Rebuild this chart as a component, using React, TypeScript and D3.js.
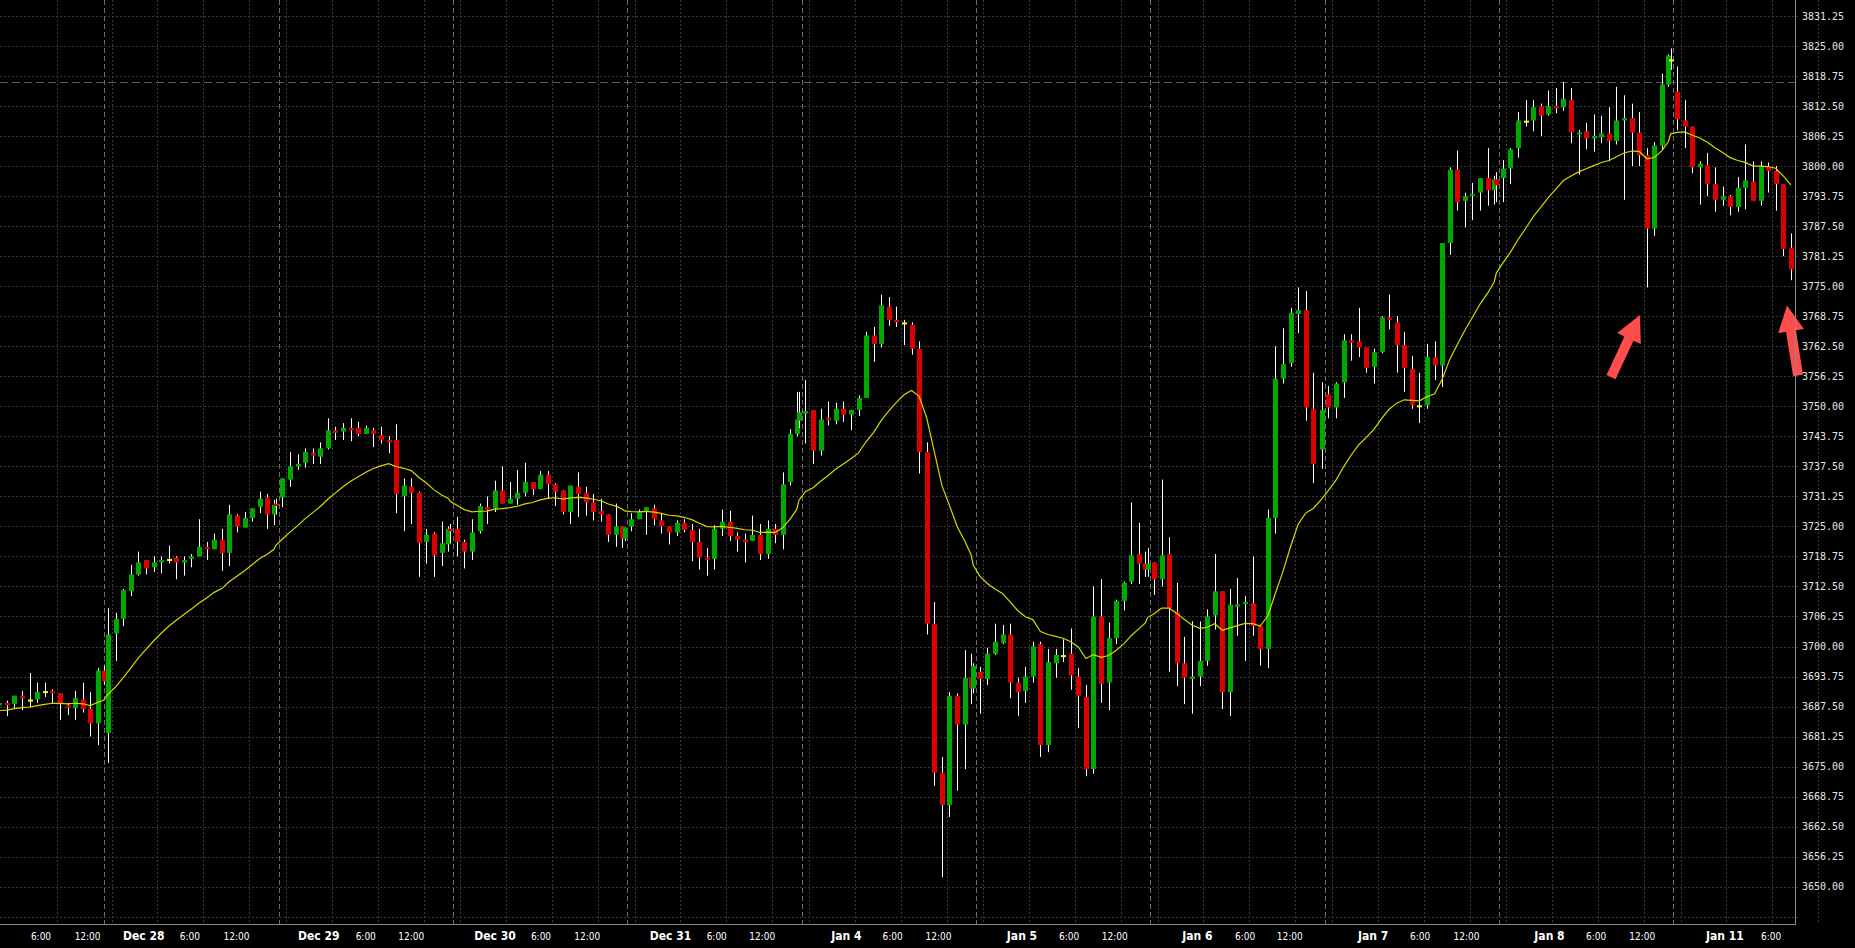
import React from 'react';
import * as d3 from 'd3';

type Bar = [number, number, number, number]; // open, high, low, close

// ---- price data (hourly bars) ----
const dec24: Bar[] = [
  [3687.75, 3688.5, 3687.5, 3688.25], [3688.25, 3688.75, 3685.5, 3687.75], [3688, 3689.75, 3687.25, 3689.75],
  [3689.75, 3690.75, 3686.75, 3689.25], [3688.75, 3694.5, 3687.25, 3688.75], [3689, 3692.5, 3688.25, 3690.5],
  [3690.5, 3692.5, 3689.5, 3690.5], [3690.75, 3691, 3688.25, 3690.25], [3690.25, 3690.25, 3684.75, 3688],
  [3687.75, 3688.25, 3685.75, 3687.25], [3687.25, 3690.75, 3684.75, 3689.25], [3689, 3692.5, 3686.25, 3687],
  [3687, 3690.5, 3681.25, 3684], [3684, 3695.5, 3679.5, 3695], [3695, 3696, 3692, 3692.75],
];
const dec28: Bar[] = [
  [3682, 3708, 3675.75, 3702.5], [3702.75, 3707, 3697, 3705.75], [3705.75, 3712, 3704.25, 3711.75],
  [3711.5, 3717, 3710.5, 3715], [3715, 3719.75, 3714.75, 3717.5], [3718, 3718, 3715, 3716.25],
  [3716.5, 3718.75, 3715.5, 3717.5], [3717.5, 3718.75, 3715.25, 3718], [3718, 3721, 3717.25, 3718],
  [3718.5, 3718.75, 3714, 3717.5], [3717.5, 3718.75, 3714.75, 3718], [3718.25, 3719.25, 3716.5, 3718.75],
  [3718.75, 3726.5, 3718.75, 3720.75], [3720.75, 3721.75, 3718, 3720.25], [3720.25, 3723.5, 3720.25, 3722.25],
  [3722.25, 3724.5, 3715.75, 3719.5], [3719.5, 3729.5, 3716.75, 3727.5], [3727.25, 3727.5, 3723.75, 3725],
  [3724.75, 3728, 3724.75, 3726.75], [3726.75, 3728.75, 3726, 3728.75], [3729, 3732.25, 3727.75, 3730.75],
  [3731, 3731.75, 3724.5, 3727.5], [3727.5, 3730.5, 3725.25, 3729.5], [3729.75, 3730.75, 3727.5, 3729.25],
];
const dec29: Bar[] = [
  [3731, 3735, 3729, 3735], [3734.75, 3740.5, 3733.25, 3737.5], [3737.5, 3740, 3736.75, 3738],
  [3738.25, 3741.25, 3737.25, 3740.5], [3740.25, 3741.25, 3738, 3739.75], [3739.5, 3742.5, 3738, 3741.25],
  [3741.25, 3747.5, 3741, 3745], [3745, 3745.75, 3743, 3744.5], [3744.75, 3746.5, 3743, 3745.5],
  [3745.5, 3747.5, 3742.75, 3745], [3745.5, 3746.75, 3743.75, 3744.25], [3744.25, 3746, 3744.25, 3745.5],
  [3745, 3745.5, 3741.5, 3744.25], [3744, 3745.75, 3742.25, 3743], [3743, 3743.75, 3740.25, 3742.5],
  [3743, 3746.25, 3727.75, 3731.75], [3731.25, 3735, 3724, 3733.5], [3733.25, 3735, 3725.5, 3732],
  [3732, 3732.25, 3714.5, 3721.5], [3721.75, 3724.5, 3717.25, 3723.25], [3723.5, 3723.75, 3714.5, 3719],
  [3719.5, 3726, 3716.75, 3721.5], [3721.25, 3725, 3719.75, 3724.5], [3724.5, 3725.5, 3721.5, 3724],
];
const dec30: Bar[] = [
  [3724.5, 3727, 3718.75, 3721.75], [3721.75, 3722.25, 3716.25, 3719.75], [3719.75, 3726.5, 3718, 3723.75],
  [3724, 3729.75, 3723.5, 3729.25], [3729, 3731.25, 3725.5, 3728.5], [3728.75, 3734.5, 3728, 3732.5],
  [3732.5, 3737.5, 3729.75, 3729.75], [3729.75, 3734.25, 3729.75, 3730.75], [3730.75, 3736.75, 3729.5, 3732],
  [3732, 3738.25, 3731.25, 3734.25], [3734.25, 3734.25, 3731.5, 3732.75], [3732.75, 3736.5, 3732.75, 3735.75],
  [3735.75, 3736.5, 3730.75, 3733.75], [3733.75, 3734, 3729.25, 3732.25], [3732.5, 3732.5, 3727.5, 3728],
  [3728, 3733.5, 3725.5, 3733.5], [3733.25, 3736.25, 3727, 3731.75], [3732, 3733.25, 3727.25, 3730],
  [3730, 3731.75, 3726.25, 3728], [3728.25, 3730.75, 3726, 3727.5], [3727.5, 3727.5, 3721.75, 3723.25],
  [3723.25, 3729.75, 3720.75, 3725], [3725, 3725, 3720.5, 3722.5], [3722.5, 3724.75, 3722, 3724.75],
];
const dec31: Bar[] = [
  [3725, 3727.75, 3724, 3726.5], [3726.5, 3728.5, 3726.5, 3728], [3728.25, 3729, 3723.25, 3729],
  [3728.75, 3729.5, 3725.25, 3726.5], [3726.25, 3727.75, 3723.5, 3725], [3725, 3725, 3721.25, 3723.75],
  [3723.75, 3726.25, 3723, 3725.75], [3725.75, 3726.5, 3723.75, 3724.25], [3724.25, 3725.5, 3717.75, 3721.75],
  [3721.75, 3724.5, 3716, 3718.5], [3718.5, 3720.5, 3714.75, 3718.25], [3718.25, 3725.25, 3716, 3724.5],
  [3724.5, 3728.5, 3723, 3726], [3726, 3728.25, 3722, 3723], [3723, 3723.75, 3719.75, 3722.25],
  [3722.25, 3723.5, 3717.5, 3721.75], [3722, 3727.25, 3722, 3723.25], [3723.25, 3725.5, 3718, 3719.25],
  [3719.25, 3726.25, 3718.25, 3724.5], [3724.5, 3725.5, 3721.5, 3723.25], [3723.25, 3736.25, 3720.25, 3733.75],
  [3734.25, 3745.25, 3733.5, 3744.25], [3744.25, 3753, 3743.75, 3747.25], [3747, 3753, 3745.5, 3748.75],
];
const jan4: Bar[] = [
  [3748.5, 3755.5, 3742.25, 3749], [3749.25, 3749.25, 3738, 3740.75], [3740.75, 3749.5, 3739.75, 3747.25],
  [3747.5, 3751, 3746, 3747.25], [3747, 3750.75, 3746.25, 3749.5], [3749.5, 3751, 3746.75, 3748.25],
  [3748.25, 3749.25, 3745, 3749.25], [3749.25, 3752.25, 3748, 3751.75], [3751.75, 3765.5, 3751.75, 3764.75],
  [3764.75, 3766.5, 3759.25, 3763], [3763, 3773.25, 3762.25, 3771], [3770.75, 3772.75, 3766.75, 3768],
  [3768, 3770.75, 3766.5, 3767.5], [3767.25, 3768, 3762.75, 3767.25], [3767, 3767.5, 3760.75, 3762],
  [3762, 3763.5, 3736, 3740.5], [3740.5, 3742.5, 3702.5, 3704.75], [3704.75, 3709.25, 3671, 3673.75],
  [3673.75, 3677, 3652, 3667], [3667, 3690.5, 3664.5, 3689.75], [3689.75, 3690.25, 3670, 3683.75],
  [3683.75, 3699.25, 3674.5, 3693.5], [3693.5, 3698.5, 3688, 3691.25], [3691.25, 3696.5, 3690.25, 3696],
];
const jan5: Bar[] = [
  [3694.75, 3695.75, 3686, 3693.25], [3693.25, 3699.75, 3692, 3698.5], [3698.5, 3704.75, 3698.25, 3701],
  [3700.75, 3704.5, 3700.5, 3702.5], [3702.5, 3704.75, 3689.25, 3692.5], [3692.5, 3693.5, 3685.5, 3690.5],
  [3690.75, 3695.75, 3688.25, 3693.75], [3693.75, 3701, 3692.5, 3700], [3700.5, 3701, 3677, 3679.5],
  [3679.5, 3699.5, 3678, 3696.75], [3696.5, 3699.5, 3693.5, 3698.25], [3698, 3701.5, 3696.75, 3698],
  [3698.5, 3703.75, 3691, 3694], [3693.75, 3695.5, 3683, 3689.75], [3689.5, 3692, 3673, 3674.5],
  [3674.5, 3712.5, 3673.5, 3706.25], [3706.25, 3714, 3688.25, 3692.25], [3692.5, 3705, 3686.75, 3701.75],
  [3701.75, 3709.75, 3700.5, 3709.5], [3709.5, 3713.5, 3707.5, 3713.25], [3713.5, 3730, 3713, 3719],
  [3719.25, 3725.75, 3713, 3717.25], [3717.25, 3719.75, 3714.5, 3716], [3716, 3720.5, 3714.5, 3717.25],
];
const jan6: Bar[] = [
  [3717.5, 3717.5, 3710.75, 3714], [3714, 3734.75, 3712.5, 3719], [3719.25, 3722.75, 3694.75, 3708],
  [3707.25, 3713.25, 3691.75, 3696.5], [3696.5, 3702, 3688, 3693.5], [3693.25, 3705.25, 3686, 3693.75],
  [3693.75, 3705.25, 3691.75, 3697], [3697, 3707.75, 3696, 3706.25], [3706.5, 3719.25, 3703.5, 3711.5],
  [3711.5, 3711.5, 3687, 3690.5], [3690.5, 3712, 3685.5, 3708.75], [3708.5, 3714.25, 3702.25, 3708.75],
  [3709, 3710.5, 3697, 3709.25], [3709, 3718.75, 3702.25, 3704.25], [3704.25, 3704.25, 3696, 3699.5],
  [3699.5, 3728.5, 3695.5, 3726.75], [3726.75, 3762.5, 3723.5, 3755.75], [3755.75, 3766.25, 3754.75, 3758.75],
  [3759, 3770.5, 3758.25, 3769.5], [3769.25, 3774.75, 3765.25, 3770], [3770, 3774, 3747, 3749.75],
  [3749.5, 3757, 3734, 3738], [3741, 3755, 3737, 3749.25],
];
const jan7: Bar[] = [
  [3752.5, 3754.25, 3747.5, 3749.75], [3749.75, 3755, 3747.5, 3754.75], [3755, 3765, 3751.75, 3763.75],
  [3763.75, 3765, 3759.5, 3763.25], [3763.5, 3770.5, 3760.25, 3762.25], [3762.25, 3762.25, 3757, 3758],
  [3758.25, 3762, 3754.75, 3761.25], [3761.25, 3768.75, 3761, 3768.5], [3768.5, 3773.25, 3766, 3768],
  [3767.5, 3768.75, 3757, 3762.75], [3762.75, 3765.5, 3753, 3758], [3757.75, 3760.5, 3749.5, 3750.25],
  [3750, 3757, 3746.5, 3750], [3750.25, 3763, 3749.5, 3760.25], [3760.25, 3763.5, 3755.5, 3758.5],
  [3758.5, 3784, 3754, 3784], [3784, 3799.75, 3781.5, 3799.25], [3799.25, 3803.25, 3790.75, 3792.5],
  [3792.75, 3794.5, 3787.25, 3793.75], [3794, 3796.5, 3788.75, 3794.25], [3794.5, 3797.5, 3790.75, 3797.5],
  [3797.5, 3803.75, 3791.75, 3795], [3795, 3798, 3792, 3797.25], [3797.25, 3798.75, 3792.5, 3796],
];
const jan8: Bar[] = [
  [3797.5, 3801.25, 3792.5, 3799.5], [3799.5, 3803.75, 3796.25, 3803.5], [3803.75, 3811.25, 3801.75, 3809.5],
  [3809.25, 3813.75, 3808.25, 3809.25], [3809.5, 3813.75, 3807.25, 3812.25], [3812.5, 3813, 3806.25, 3810.5],
  [3810.75, 3815.75, 3810.5, 3812.5], [3812.5, 3816.25, 3811, 3812], [3812.25, 3817.5, 3811.5, 3814],
  [3813.75, 3816.25, 3804.75, 3807], [3806.75, 3807.5, 3798.25, 3807], [3807.25, 3809, 3803.5, 3805.75],
  [3805.75, 3810.75, 3803, 3806.25], [3806, 3810.5, 3804.75, 3806.75], [3806.75, 3812.25, 3801, 3805.25],
  [3805.25, 3816.5, 3804.5, 3809.5], [3809.5, 3814.75, 3793, 3810], [3810, 3813, 3800, 3807],
  [3807, 3811.25, 3800, 3802.25], [3802.25, 3803.75, 3774.75, 3787], [3787, 3805, 3785.5, 3804.25],
  [3804.25, 3819.25, 3803.5, 3817], [3817, 3823.25, 3816.5, 3823], [3822, 3824.5, 3820, 3822],
];
const jan11: Bar[] = [
  [3815.5, 3820.75, 3807.5, 3809.75], [3809.5, 3813.75, 3803.75, 3808.25], [3808.25, 3808.25, 3798.5, 3799.75],
  [3799.75, 3801, 3792, 3800.5], [3800.25, 3802.75, 3793.75, 3796.25], [3796.25, 3799.75, 3790.5, 3793],
  [3793, 3795.75, 3791.75, 3793.75], [3793.75, 3794, 3789.75, 3791.5], [3791.5, 3797.75, 3790.5, 3795.5],
  [3795.5, 3804.5, 3791, 3797], [3796.75, 3801, 3792.75, 3792.75], [3792.75, 3801, 3791.75, 3800],
  [3800, 3800.75, 3794.5, 3799], [3799, 3800, 3790.75, 3796.25], [3796.25, 3796.25, 3781.25, 3782.75],
  [3783, 3786, 3776.25, 3778.5],
];

// sessions: day index (Dec 28 = 0), session length 23 h on the time axis
const sessionDays = [-1, 0, 1, 2, 3, 4, 5, 6, 7, 8, 9];
const sessionBars = [dec24, dec28, dec29, dec30, dec31, jan4, jan5, jan6, jan7, jan8, jan11];

// axis labels: [hour position, text, isDate]
const xLabels: [number, string, boolean][] = [
  [-8.35, '6:00', false], [-2.2, '12:00', false],
  [5.21, 'Dec 28', true], [11.28, '6:00', false], [17.43, '12:00', false],
  [28.3, 'Dec 29', true], [34.49, '6:00', false], [40.5, '12:00', false],
  [51.54, 'Dec 30', true], [57.61, '6:00', false], [63.71, '12:00', false],
  [74.7, 'Dec 31', true], [80.8, '6:00', false], [86.8, '12:00', false],
  [97.9, 'Jan 4', true], [104.0, '6:00', false], [110.05, '12:00', false],
  [121.07, 'Jan 5', true], [127.3, '6:00', false], [133.3, '12:00', false],
  [144.2, 'Jan 6', true], [150.5, '6:00', false], [156.4, '12:00', false],
  [167.4, 'Jan 7', true], [173.6, '6:00', false], [179.7, '12:00', false],
  [190.66, 'Jan 8', true], [196.8, '6:00', false], [202.9, '12:00', false],
  [213.8, 'Jan 11', true], [219.9, '6:00', false],
];
const dayGridOffsets = [0.95, 6.99, 13.06, 19.13];
const extraGridHours = [-6.28];
const yTickValues = d3.range(3650, 3831.26, 6.25);
const gridExtraLow = 3643.75;
const levelLine = 3817.5;
const emaPeriod = 20;
const emaSeed = 3686.5;

const W = 1855, H = 948;
const plotR = 1795, plotB = 924;

function barHour(day: number, i: number, n: number): number {
  if (day < 0) return i < 14 ? -13.85 + i : -0.1;
  let t: number;
  if (n === 23) t = i < 22 ? i + 0.5 : 22.6;           // short session (no 16:30 bar)
  else t = i < 22 ? i + 0.5 : i === 22 ? 22.35 : 22.65; // regular / partial sessions
  return 23 * day + t;
}

interface Candle { h: number; o: number; hi: number; lo: number; c: number; }

const candles: Candle[] = [];
sessionBars.forEach((bars, si) => {
  bars.forEach((b, i) => {
    candles.push({ h: barHour(sessionDays[si], i, bars.length), o: b[0], hi: b[1], lo: b[2], c: b[3] });
  });
});

const ema: [number, number][] = [];
{
  const a = 2 / (emaPeriod + 1);
  let prev = emaSeed;
  candles.forEach((cd) => {
    prev = prev + a * (cd.c - prev);
    ema.push([cd.h, prev]);
  });
}

export default function App() {
  const x = d3.scaleLinear().domain([-13.76, 223.05]).range([0, plotR]);
  const y = d3.scaleLinear().domain([3650, 3831.25]).range([886.7, 16]);
  const line = d3.line<[number, number]>().x((d) => x(d[0])).y((d) => y(d[1]));
  const bodyW = 5;

  const dayLines = sessionDays.filter((d) => d >= 0).map((d) => 23 * d);
  const dotLines: number[] = [...extraGridHours];
  sessionDays.filter((d) => d >= 0).forEach((d) => dayGridOffsets.forEach((o) => dotLines.push(23 * d + o)));

  // annotation arrows (tip in data space, tail offset in px)
  const arrows = [
    { tipH: 202.6, tipP: 3769, dx: -29, dy: 62 },
    { tipH: 222.0, tipP: 3771, dx: 11, dy: 70 },
  ];
  const arrowPath = (tx: number, ty: number, dx: number, dy: number) => {
    const len = Math.hypot(dx, dy);
    const ux = dx / len, uy = dy / len; // from tip towards tail
    const px = -uy, py = ux;
    const headL = 26, headW = 13, shaftW = 5;
    const bx = tx + ux * headL, by = ty + uy * headL;
    const ex = tx + dx, ey = ty + dy;
    const pts = [
      [tx, ty],
      [bx + px * headW, by + py * headW],
      [bx + px * shaftW, by + py * shaftW],
      [ex + px * shaftW, ey + py * shaftW],
      [ex - px * shaftW, ey - py * shaftW],
      [bx - px * shaftW, by - py * shaftW],
      [bx - px * headW, by - py * headW],
    ];
    return 'M' + pts.map((p) => p[0].toFixed(1) + ',' + p[1].toFixed(1)).join('L') + 'Z';
  };

  return (
    <svg width={W} height={H} style={{ position: 'absolute', left: 0, top: 0, background: '#000' }}>
      <rect x={0} y={0} width={W} height={H} fill="#000" />
      {/* horizontal grid */}
      {[...yTickValues, gridExtraLow].map((v) => (
        <line key={'hg' + v} x1={0} x2={plotR + 4} y1={Math.round(y(v)) + 0.5} y2={Math.round(y(v)) + 0.5}
          stroke="#3a3a3a" strokeDasharray="2,2" />
      ))}
      {/* vertical dotted grid */}
      {dotLines.map((h, i) => (
        <line key={'vg' + i} x1={Math.round(x(h)) + 0.5} x2={Math.round(x(h)) + 0.5} y1={0} y2={plotB}
          stroke="#3a3a3a" strokeDasharray="2,2" />
      ))}
      {/* day separators */}
      {dayLines.map((h, i) => (
        <line key={'dl' + i} x1={Math.round(x(h)) + 0.5} x2={Math.round(x(h)) + 0.5} y1={0} y2={plotB}
          stroke="#6e6e6e" strokeDasharray="5,3" />
      ))}
      {/* level line */}
      <line x1={0} x2={plotR} y1={Math.round(y(levelLine)) + 0.5} y2={Math.round(y(levelLine)) + 0.5}
        stroke="#5e5e5e" strokeDasharray="8,4" />
      {/* candles */}
      {candles.map((cd, i) => {
        const cx = Math.round(x(cd.h));
        const up = cd.c > cd.o, flat = cd.c === cd.o;
        const col = flat ? '#ffff00' : up ? '#00a800' : '#dc0000';
        const top = y(Math.max(cd.o, cd.c)), bot = y(Math.min(cd.o, cd.c));
        const bh = Math.max(2, bot - top);
        return (
          <g key={'c' + i}>
            <line x1={cx + 0.5} x2={cx + 0.5} y1={y(cd.hi)} y2={y(cd.lo)} stroke="#ffffff" strokeWidth={1} />
            <rect x={cx - 2} y={flat ? top - 1 : top} width={bodyW} height={bh} fill={col} />
          </g>
        );
      })}
      {/* EMA */}
      <path d={line(ema) || ''} fill="none" stroke="#d8d800" strokeWidth={1.2} />
      {/* arrows */}
      {arrows.map((a, i) => (
        <path key={'ar' + i} d={arrowPath(x(a.tipH), y(a.tipP), a.dx, a.dy)} fill="#ff4d4d" />
      ))}
      {/* borders */}
      <line x1={plotR + 0.5} x2={plotR + 0.5} y1={0} y2={plotB + 1} stroke="#8c8c8c" />
      <line x1={0} x2={plotR + 1} y1={plotB + 0.5} y2={plotB + 0.5} stroke="#8c8c8c" />
      {/* y labels */}
      {yTickValues.map((v) => (
        <text key={'yl' + v} x={1802} y={y(v)} dy="0.35em" fill="#e6e6e6"
          style={{ font: '10px "DejaVu Sans Mono", monospace' }}>{d3.format('.2f')(v)}</text>
      ))}
      {/* x labels */}
      {xLabels.map(([h, t, isDate], i) => (
        <text key={'xl' + i} x={x(h)} y={940} textAnchor="middle" fill="#ffffff"
          style={isDate ? { font: 'bold 12px "Liberation Sans Narrow", "DejaVu Sans Condensed", sans-serif' }
                        : { font: '10px "Liberation Sans Narrow", "DejaVu Sans Condensed", sans-serif' }}>{t}</text>
      ))}
    </svg>
  );
}
